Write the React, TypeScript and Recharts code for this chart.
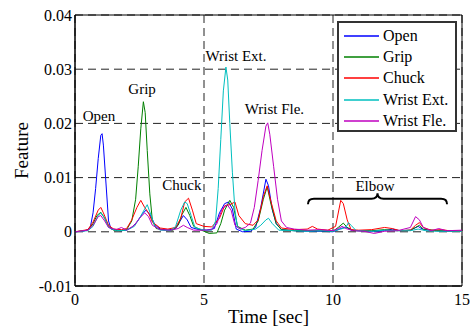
import { LineChart, Line, XAxis, YAxis, CartesianGrid, Legend, ReferenceArea, ReferenceDot } from 'recharts';

// [time (sec), feature] pairs
const OPEN: [number, number][] = [
  [0, 0], [0.3, 0.0001], [0.5, 0.0004], [0.6, 0.001], [0.7, 0.0035], [0.8, 0.008], [0.9, 0.0135], [1.0, 0.0178],
  [1.05, 0.0181], [1.1, 0.016], [1.2, 0.009], [1.3, 0.002], [1.4, 0.0005], [1.6, 0.0003], [1.8, 0.0002], [2.0, 0.0003],
  [2.2, 0.0008], [2.4, 0.0018], [2.6, 0.0032], [2.75, 0.004], [2.9, 0.0032], [3.1, 0.0013], [3.3, 0.0005], [3.6, 0.0003],
  [3.9, 0.0006], [4.05, 0.0018], [4.2, 0.003], [4.35, 0.0022], [4.5, 0.0008], [4.8, 0.0004], [5.1, 0.0003], [5.4, 0.0006],
  [5.6, 0.0035], [5.8, 0.0052], [5.95, 0.0055], [6.1, 0.0042], [6.25, 0.0005], [6.5, 0], [6.8, 0.0001], [7.0, 0.0008],
  [7.2, 0.0045], [7.4, 0.0097], [7.5, 0.0085], [7.65, 0.004], [7.8, 0.0015], [8.0, 0.0004], [8.5, 0.0002], [9.0, 0.0001],
  [9.5, 0.0001], [10, 0], [10.3, 0.0006], [10.5, 0.0009], [10.7, 0.0003], [11, 0.0002], [11.5, 0.0001], [12, 0.0002],
  [12.3, 0.0005], [12.6, 0.0002], [13.0, 0.0003], [13.3, 0.001], [13.5, 0.0004], [14, 0.0002], [14.5, 0.0001], [15, 0.0001],
];

const GRIP: [number, number][] = [
  [0, 0], [0.5, 0.0003], [0.7, 0.0015], [0.85, 0.003], [1.0, 0.0036], [1.15, 0.0025], [1.3, 0.001], [1.5, 0.0003],
  [1.8, 0.0002], [2.0, 0.0004], [2.2, 0.002], [2.35, 0.006], [2.45, 0.012], [2.55, 0.019], [2.65, 0.024], [2.72, 0.022],
  [2.8, 0.015], [2.9, 0.007], [3.0, 0.002], [3.15, 0.0006], [3.5, 0.0003], [3.8, 0.0003], [4.0, 0.0012], [4.15, 0.0032],
  [4.3, 0.0045], [4.45, 0.003], [4.6, 0.001], [4.9, 0.0003], [5.2, -0.0003], [5.5, -0.0002], [5.65, 0.0015], [5.8, 0.004],
  [6.0, 0.0058], [6.15, 0.0045], [6.3, 0.001], [6.6, 0.0003], [6.9, 0.0005], [7.1, 0.002], [7.3, 0.006], [7.45, 0.0083],
  [7.6, 0.005], [7.8, 0.0015], [8.0, 0.0004], [8.5, 0.0002], [9, 0.0002], [9.5, 0.0002], [10, 0.0001], [10.2, 0.0008],
  [10.4, 0.0016], [10.55, 0.0008], [10.8, 0.0002], [11.5, 0.0002], [12, 0.0004], [12.5, 0.0002], [13, 0.0003], [13.2, 0.0008],
  [13.35, 0.0012], [13.5, 0.0005], [14, 0.0002], [15, 0.0001],
];

const CHUCK: [number, number][] = [
  [0, 0], [0.5, 0.0004], [0.7, 0.0018], [0.9, 0.004], [1.0, 0.0045], [1.1, 0.0035], [1.3, 0.0012], [1.5, 0.0005],
  [1.8, 0.0004], [2.0, 0.0006], [2.2, 0.0022], [2.4, 0.0045], [2.55, 0.0058], [2.7, 0.0045], [2.85, 0.0035], [3.0, 0.0018],
  [3.3, 0.0007], [3.6, 0.0005], [3.9, 0.0008], [4.1, 0.0025], [4.25, 0.0055], [4.4, 0.0062], [4.55, 0.004], [4.7, 0.0015],
  [5.0, 0.001], [5.3, 0.0009], [5.6, 0.0025], [5.8, 0.0048], [6.0, 0.005], [6.2, 0.0055], [6.35, 0.003], [6.6, 0.0015],
  [6.9, 0.0012], [7.1, 0.0022], [7.3, 0.0065], [7.45, 0.0085], [7.6, 0.0055], [7.8, 0.002], [8.0, 0.0007], [8.5, 0.0004],
  [9.0, 0.0005], [9.2, 0.001], [9.4, 0.0005], [9.8, 0.0003], [10.1, 0.001], [10.3, 0.0058], [10.4, 0.0052], [10.55, 0.0022],
  [10.7, 0.0004], [11, 0.0003], [11.5, 0.0004], [12.0, 0.0008], [12.3, 0.0006], [12.6, 0.0002], [13, 0.0003], [13.2, 0.0012],
  [13.35, 0.0017], [13.5, 0.0008], [13.8, 0.0003], [14.2, 0.0004], [14.5, 0.0002], [15, 0.0001],
];

const WRIST_EXT: [number, number][] = [
  [0, 0], [0.5, 0.0002], [0.7, 0.001], [0.9, 0.003], [1.0, 0.0035], [1.15, 0.0025], [1.3, 0.0008], [1.6, 0.0002],
  [2.0, 0.0003], [2.3, 0.001], [2.5, 0.0025], [2.7, 0.0042], [2.8, 0.005], [2.95, 0.003], [3.1, 0.001], [3.3, 0.0003],
  [3.7, 0.0002], [3.9, 0.001], [4.1, 0.004], [4.25, 0.0055], [4.35, 0.0052], [4.5, 0.003], [4.65, 0.0008], [5.0, 0.0003],
  [5.3, 0.0003], [5.45, 0.002], [5.55, 0.008], [5.65, 0.017], [5.75, 0.026], [5.85, 0.0304], [5.92, 0.028], [6.0, 0.02],
  [6.1, 0.011], [6.2, 0.004], [6.3, 0.0008], [6.6, 0.0002], [7.0, 0.0005], [7.2, 0.0012], [7.4, 0.0022], [7.5, 0.0025],
  [7.65, 0.0015], [7.9, 0.0003], [8.5, 0.0002], [9.0, 0.0001], [9.5, 0.0002], [10, 0.0001], [10.3, 0.0005], [10.5, 0.0008],
  [10.6, 0.0017], [10.7, 0.0012], [10.9, 0.0002], [11.5, 0.0001], [12, 0.0003], [12.5, 0.0002], [13, 0.0002], [13.3, 0.0005],
  [13.6, 0.0002], [14, 0.0001], [15, 0.0001],
];

const WRIST_FLE: [number, number][] = [
  [0, 0], [0.5, 0.0003], [0.7, 0.0012], [0.9, 0.0028], [1.0, 0.003], [1.15, 0.002], [1.3, 0.0008], [1.6, 0.0004],
  [1.8, 0.0008], [2.0, 0.0003], [2.3, 0.0012], [2.5, 0.0025], [2.7, 0.0035], [2.85, 0.0028], [3.0, 0.0012], [3.3, 0.0004],
  [3.7, 0.0003], [4.0, 0.0006], [4.2, 0.0012], [4.35, 0.0008], [4.6, 0.0003], [5.0, 0.0003], [5.3, 0.0004], [5.5, 0.0015],
  [5.7, 0.0042], [5.9, 0.005], [6.05, 0.004], [6.2, 0.0012], [6.4, 0.0005], [6.6, 0.0008], [6.8, 0.0016], [6.95, 0.0045],
  [7.1, 0.0095], [7.25, 0.015], [7.4, 0.0195], [7.47, 0.0201], [7.55, 0.018], [7.7, 0.012], [7.85, 0.006], [8.0, 0.002],
  [8.2, 0.0008], [8.5, 0.0005], [9.0, 0.0003], [9.5, 0.0004], [10.0, 0.0002], [10.2, 0.0006], [10.35, 0.001], [10.5, 0.0006],
  [10.8, 0.0002], [11.2, 0.0001], [11.6, -0.0003], [12.0, 0.0001], [12.5, 0.0002], [13.0, 0.0008], [13.2, 0.0028], [13.35, 0.0022],
  [13.5, 0.0008], [13.8, 0.0002], [14.1, 0.0006], [14.4, 0.0002], [15, 0.0003],
];

const X_TICKS = [0, 5, 10, 15];
const Y_TICKS = [-0.01, 0, 0.01, 0.02, 0.03, 0.04];

// gesture labels placed at [time, feature]
const NOTES: { text: string; t: number; v: number }[] = [
  { text: 'Open', t: 0.93, v: 0.0214 },
  { text: 'Grip', t: 2.6, v: 0.0264 },
  { text: 'Chuck', t: 4.14, v: 0.0086 },
  { text: 'Wrist Ext.', t: 6.24, v: 0.0324 },
  { text: 'Wrist Fle.', t: 7.73, v: 0.0227 },
  { text: 'Elbow', t: 11.63, v: 0.0084 },
];

const SERIES = [
  { name: 'Open', data: OPEN, color: '#0000ff' },
  { name: 'Grip', data: GRIP, color: '#008000' },
  { name: 'Chuck', data: CHUCK, color: '#ff0000' },
  { name: 'Wrist Ext.', data: WRIST_EXT, color: '#00bfbf' },
  { name: 'Wrist Fle.', data: WRIST_FLE, color: '#bf00bf' },
];

const FONT = 'Liberation Serif, Times New Roman, serif';

const toRows = (pts: [number, number][]) => pts.map(([t, v]) => ({ t, v }));

const fmtY = (v: number) => (v === 0 ? '0' : v.toFixed(2));

const LegendBox = () => (
  <div
    style={{
      border: '2px solid #333',
      background: '#fff',
      boxSizing: 'border-box',
      width: 120,
      height: 111,
      padding: '2px 0 0 0',
      fontFamily: FONT,
      fontSize: 16,
      color: '#000',
    }}
  >
    {SERIES.map((s) => (
      <div key={s.name} style={{ display: 'flex', alignItems: 'center', height: 21.3, fontFamily: FONT }}>
        <svg width={35} height={4} style={{ marginLeft: 5 }}>
          <line x1={0} y1={2} x2={35} y2={2} stroke={s.color} strokeWidth={1.5} />
        </svg>
        <span style={{ marginLeft: 4, whiteSpace: 'nowrap', fontFamily: FONT }}>{s.name}</span>
      </div>
    ))}
  </div>
);

const Brace = (props: any) => {
  const { x, y, width, height } = props;
  const mid = x + width / 2;
  const h2 = y + height / 2;
  const r = 6;
  const d = [
    `M ${x} ${y + height}`,
    `Q ${x} ${h2} ${x + r} ${h2}`,
    `L ${mid - r} ${h2}`,
    `Q ${mid} ${h2} ${mid} ${y}`,
    `Q ${mid} ${h2} ${mid + r} ${h2}`,
    `L ${x + width - r} ${h2}`,
    `Q ${x + width} ${h2} ${x + width} ${y + height}`,
  ].join(' ');
  return <path d={d} fill="none" stroke="#000" strokeWidth={2} />;
};

export default function App() {
  return (
    <div style={{ position: 'absolute', left: 0, top: 0, width: 471, height: 328, background: '#fff' }}>
      <LineChart width={471} height={328} margin={{ top: 15, right: 9, bottom: 0, left: 0 }}>
        <CartesianGrid stroke="#222" strokeDasharray="8 5" />
        <XAxis
          type="number"
          dataKey="t"
          domain={[0, 15]}
          ticks={X_TICKS}
          height={42}
          tickLine={false}
          axisLine={{ stroke: '#000' }}
          tick={{ fontSize: 16, fill: '#000', fontFamily: FONT }}
          label={{
            content: ({ viewBox }: any) => (
              <text x={viewBox.x + viewBox.width / 2} y={viewBox.y + 30} textAnchor="middle" dominantBaseline="central"
                fontSize={19} fontFamily={FONT} fill="#000">Time [sec]</text>
            ),
          }}
        />
        <YAxis
          type="number"
          dataKey="v"
          domain={[-0.01, 0.04]}
          ticks={Y_TICKS}
          width={75}
          tickSize={0}
          tickMargin={3}
          tickLine={false}
          tickFormatter={fmtY}
          axisLine={{ stroke: '#000' }}
          tick={{ fontSize: 16, fill: '#000', fontFamily: FONT }}
          label={{
            content: ({ viewBox }: any) => {
              const cx = viewBox.x + 21;
              const cy = viewBox.y + viewBox.height / 2;
              return (
                <text x={cx} y={cy} transform={`rotate(-90 ${cx} ${cy})`} textAnchor="middle" dominantBaseline="central"
                  fontSize={19} fontFamily={FONT} fill="#000">Feature</text>
              );
            },
          }}
        />
        {/* inward ticks on the right edge of the box */}
        <YAxis
          yAxisId="right"
          orientation="right"
          mirror
          width={0}
          domain={[-0.01, 0.04]}
          ticks={Y_TICKS}
          tickSize={5}
          tickFormatter={() => ''}
          axisLine={false}
          tickLine={{ stroke: '#000' }}
        />
        {SERIES.map((s) => (
          <Line
            key={s.name}
            name={s.name}
            data={toRows(s.data)}
            dataKey="v"
            stroke={s.color}
            strokeWidth={1}
            dot={false}
            activeDot={false}
            type="linear"
            isAnimationActive={false}
          />
        ))}
        <ReferenceArea x1={0} x2={15} y1={-0.01} y2={0.04} fill="none" stroke="#000" strokeWidth={1} />
        <ReferenceArea x1={9.03} x2={14.42} y1={0.0051} y2={0.0071} shape={<Brace />} />
        {NOTES.map((n) => (
          <ReferenceDot
            key={n.text}
            x={n.t}
            y={n.v}
            r={0}
            shape={(p: any) => (
              <text x={p.cx} y={p.cy} textAnchor="middle" dominantBaseline="central" fontSize={15} fontFamily={FONT} fill="#000">
                {n.text}
              </text>
            )}
          />
        ))}
        <Legend
          layout="vertical"
          align="center"
          verticalAlign="middle"
          content={<LegendBox />}
          wrapperStyle={{ position: 'absolute', left: 337, top: 21, width: 120, height: 111 }}
        />
      </LineChart>
    </div>
  );
}
